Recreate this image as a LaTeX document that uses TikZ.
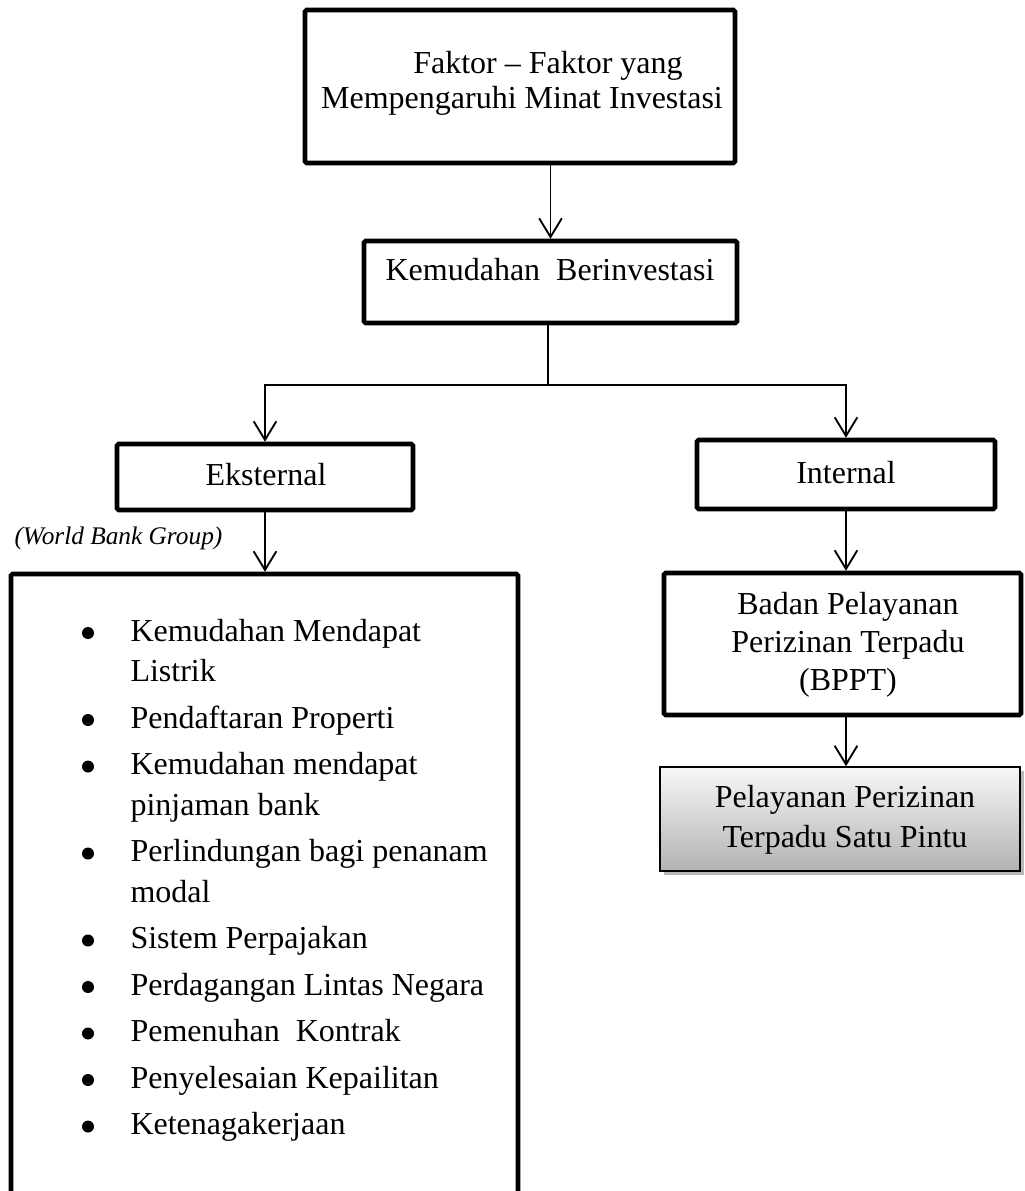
\documentclass[tikz,border=0pt]{standalone}
\usepackage{fontspec}
\setmainfont{Liberation Serif}
\usetikzlibrary{arrows.meta,shadows,positioning}
\def\pxu{0.375pt}

\begin{document}
\begin{tikzpicture}[x=0.375pt,y=-0.375pt,
	kotak/.style={draw, line width=1.7pt, rounded corners=0.6pt, inner sep=0pt},
	abu/.style={draw, line width=0.6pt, inner sep=0pt, top color=black!3, bottom color=black!30, drop shadow={shadow xshift=1.6pt, shadow yshift=-1.6pt, opacity=0.55}},
	panah/.style={line width=0.7pt, -{Straight Barb[length=7pt,width=8.5pt]}},
	garis/.style={line width=0.7pt},
	teks/.style={inner sep=0pt, font=\fontsize{12}{14}\selectfont},
	poin/.style={inner sep=0pt, font=\fontsize{12}{14}\selectfont, anchor=base west},
	titik/.style={circle, fill, inner sep=0pt, minimum size=12*\pxu}]
	\useasboundingbox (0,0) rectangle (1024,1191);
	\clip (0,0) rectangle (1024,1191);

	\node[kotak, minimum width=430*\pxu, minimum height=153*\pxu] (faktor) at (520,86.5) {};
	\node[kotak, minimum width=373*\pxu, minimum height=82*\pxu] (kemudahan) at (550.5,282) {};
	\node[kotak, minimum width=296*\pxu, minimum height=66*\pxu] (eksternal) at (265,477) {};
	\node[kotak, minimum width=298*\pxu, minimum height=69*\pxu] (internal) at (846,474.5) {};
	\node[kotak, minimum width=507*\pxu, minimum height=700*\pxu] (daftar) at (264.5,924) {};
	\node[kotak, minimum width=357*\pxu, minimum height=142*\pxu] (bppt) at (842.5,644) {};
	\node[abu, minimum width=360*\pxu, minimum height=104*\pxu] (pintu) at (840,819) {};

	\coordinate (cabang) at (548,385);
	\draw[panah] (faktor.south -| kemudahan.north) -- (kemudahan.north);
	\draw[garis] (kemudahan.south -| cabang) -- (cabang);
	\draw[panah] (cabang) -| (eksternal.north);
	\draw[panah] (cabang) -| (internal.north);
	\draw[panah] (eksternal.south) -- (eksternal.south |- daftar.north);
	\draw[panah] (internal.south) -- (internal.south |- bppt.north);
	\draw[panah] (internal.south |- bppt.south) -- (internal.south |- pintu.north);

	\node[teks, anchor=base] (judul1) at (548,73) {Faktor – Faktor yang};
	\node[teks, anchor=base] (judul2) at (522,108) {Mempengaruhi Minat Investasi};
	\node[teks, anchor=base] (kemudahan-t) at (550,280) {Kemudahan~ Berinvestasi};
	\node[teks, anchor=base] (eksternal-t) at (266,485) {Eksternal};
	\node[teks, anchor=base] (internal-t) at (846,483) {Internal};
	\node[inner sep=0pt, anchor=base west, font=\fontsize{9.5}{11}\selectfont\itshape] (sumber) at (14,544) {(World Bank Group)};
	\node[teks, anchor=base] (bppt1) at (848,614) {Badan Pelayanan};
	\node[teks, anchor=base] (bppt2) at (848,652) {Perizinan Terpadu};
	\node[teks, anchor=base] (bppt3) at (848,690) {(BPPT)};
	\node[teks, anchor=base] (pintu1) at (845,807) {Pelayanan Perizinan};
	\node[teks, anchor=base] (pintu2) at (845,847) {Terpadu Satu Pintu};

	% daftar butir
	\node[titik] (b1) at (88,633) {};
	\node[poin] (p1) at (130,641) {Kemudahan Mendapat};
	\node[poin] (p1b) at (130,681.5) {Listrik};
	\node[titik] (b2) at (88,720) {};
	\node[poin] (p2) at (130,728) {Pendaftaran Properti};
	\node[titik] (b3) at (88,766.5) {};
	\node[poin] (p3) at (130,774.5) {Kemudahan mendapat};
	\node[poin] (p3b) at (130,815) {pinjaman bank};
	\node[titik] (b4) at (88,853.5) {};
	\node[poin] (p4) at (130,861.5) {Perlindungan bagi penanam};
	\node[poin] (p4b) at (130,902) {modal};
	\node[titik] (b5) at (88,940.5) {};
	\node[poin] (p5) at (130,948.5) {Sistem Perpajakan};
	\node[titik] (b6) at (88,987) {};
	\node[poin] (p6) at (130,995) {Perdagangan Lintas Negara};
	\node[titik] (b7) at (88,1033.5) {};
	\node[poin] (p7) at (130,1041.5) {Pemenuhan~ Kontrak};
	\node[titik] (b8) at (88,1080) {};
	\node[poin] (p8) at (130,1088) {Penyelesaian Kepailitan};
	\node[titik] (b9) at (88,1126.5) {};
	\node[poin] (p9) at (130,1134.5) {Ketenagakerjaan};
\end{tikzpicture}
\end{document}
